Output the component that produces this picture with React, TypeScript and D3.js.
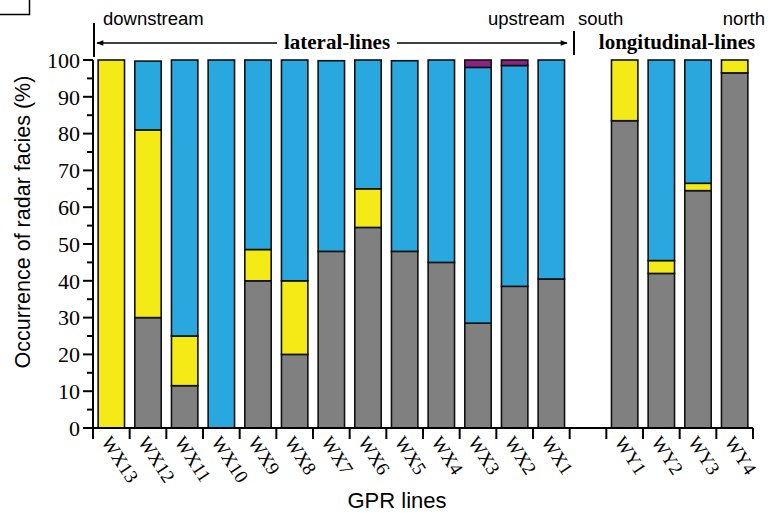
import React from "react";
import { scaleBand, scaleLinear, range } from "d3";

// GPR lines, the empty slot separates lateral and longitudinal lines
const categories = ["WX13", "WX12", "WX11", "WX10", "WX9", "WX8", "WX7", "WX6", "WX5", "WX4", "WX3", "WX2", "WX1", "", "WY1", "WY2", "WY3", "WY4"];

// occurrence (%) of each radar facies, stacked bottom to top
const grayValues = [0, 30, 11.5, 0, 40, 20, 48, 54.5, 48, 45, 28.5, 38.5, 40.5, 0, 83.5, 42, 64.5, 96.5];
const yellowValues = [100, 51, 13.5, 0, 8.5, 20, 0, 10.5, 0, 0, 0, 0, 0, 0, 16.5, 3.5, 2, 3.5];
const blueValues = [0, 18.7, 75, 100, 51.5, 60, 51.8, 35, 51.8, 55, 69.5, 60, 59.5, 0, 0, 54.5, 33.5, 0];
const purpleValues = [0, 0, 0, 0, 0, 0, 0, 0, 0, 0, 2, 1.5, 0, 0, 0, 0, 0, 0];

const yTicks = [0, 10, 20, 30, 40, 50, 60, 70, 80, 90, 100];

const series = [
  { values: grayValues, color: "#808080" },
  { values: yellowValues, color: "#f3ea16" },
  { values: blueValues, color: "#29a8e0" },
  { values: purpleValues, color: "#8c2483" },
];

const serif = "'Liberation Serif', 'Times New Roman', serif";
const sans = "'Liberation Sans', Arial, sans-serif";

const App = () => {
  const width = 771;
  const height = 516;
  const left = 93;
  const right = 753;
  const top = 60;
  const bottom = 428;

  const x = scaleBand().domain(categories.map((c, i) => i + "")).range([left, right]).paddingInner(0.28).paddingOuter(0.14);
  const y = scaleLinear().domain([0, 100]).range([bottom, top]);
  const step = x.step();
  const edges = range(categories.length + 1).map(i => left + i * step);
  const minor = range(5, 100, 10);

  const stacks = categories.map((c, i) => {
    let acc = 0;
    return series.map(s => {
      const y0 = acc;
      acc += s.values[i];
      return { y0, y1: acc, color: s.color, v: s.values[i] };
    }).filter(d => d.v > 0);
  });

  return (
    <svg width={width} height={height} style={{ position: "absolute", left: 0, top: 0, background: "#fff" }}>
      <defs>
        <marker id="ah" viewBox="0 0 10 10" refX="9" refY="5" markerWidth="9" markerHeight="7" orient="auto-start-reverse" markerUnits="userSpaceOnUse">
          <path d="M0,1 L10,5 L0,9 Z" fill="#000" />
        </marker>
      </defs>
      {/* remnant of a neighbouring panel */}
      <path d="M0,14.5 H29.5 V0" fill="none" stroke="#000" strokeWidth={1.5} />

      {/* bars */}
      {stacks.map((segs, i) => (
        <g key={i}>
          {segs.map((d, j) => (
            <rect key={j} x={x(i + "")} width={x.bandwidth()} y={y(d.y1)} height={y(d.y0) - y(d.y1)}
              fill={d.color} stroke="#111" strokeWidth={1.6} />
          ))}
        </g>
      ))}

      {/* y axis */}
      <line x1={left} x2={left} y1={top} y2={bottom} stroke="#000" strokeWidth={2} />
      {yTicks.map(t => (
        <g key={t}>
          <line x1={left - 10} x2={left} y1={y(t)} y2={y(t)} stroke="#000" strokeWidth={2} />
          <text x={left - 13} y={y(t)} dy="0.35em" textAnchor="end" fontFamily={serif} fontSize={22}>{t}</text>
        </g>
      ))}
      {minor.map(t => (
        <line key={t} x1={left - 6} x2={left} y1={y(t)} y2={y(t)} stroke="#000" strokeWidth={2} />
      ))}
      <text transform={`translate(22,222) rotate(-90)`} textAnchor="middle" dy="0.35em" fontFamily={sans} fontSize={21.5}>Occurrence of radar facies (%)</text>

      {/* x axis */}
      <line x1={left} x2={right} y1={bottom} y2={bottom} stroke="#000" strokeWidth={2} />
      {edges.map((e, i) => (
        <line key={i} x1={e} x2={e} y1={bottom} y2={bottom + 11} stroke="#000" strokeWidth={2} />
      ))}
      {categories.map((c, i) => (
        <text key={i} transform={`translate(${(x(i + "") as number) + x.bandwidth() / 2 - 5},${bottom + 10}) rotate(57)`}
          dy="0.35em" fontFamily={serif} fontSize={19}>{c}</text>
      ))}
      <text x={397} y={508} textAnchor="middle" fontFamily={sans} fontSize={22}>GPR lines</text>

      {/* header annotations */}
      <line x1={edges[0] + 1} x2={edges[0] + 1} y1={23} y2={57} stroke="#000" strokeWidth={2} />
      <line x1={574} x2={574} y1={31} y2={55} stroke="#000" strokeWidth={2} />
      <line x1={97} x2={277} y1={43} y2={43} stroke="#000" strokeWidth={1.5} markerStart="url(#ah)" />
      <line x1={397} x2={567} y1={43} y2={43} stroke="#000" strokeWidth={1.5} markerEnd="url(#ah)" />
      <text x={337} y={49} textAnchor="middle" fontFamily={serif} fontWeight="bold" fontSize={21}>lateral-lines</text>
      <text x={677} y={49} textAnchor="middle" fontFamily={serif} fontWeight="bold" fontSize={21}>longitudinal-lines</text>
      <text x={103} y={25} fontFamily={sans} fontSize={18.5}>downstream</text>
      <text x={565} y={25} textAnchor="end" fontFamily={sans} fontSize={18.5}>upstream</text>
      <text x={578} y={25} fontFamily={sans} fontSize={18.5}>south</text>
      <text x={765} y={25} textAnchor="end" fontFamily={sans} fontSize={18.5}>north</text>
    </svg>
  );
};

export default App;
